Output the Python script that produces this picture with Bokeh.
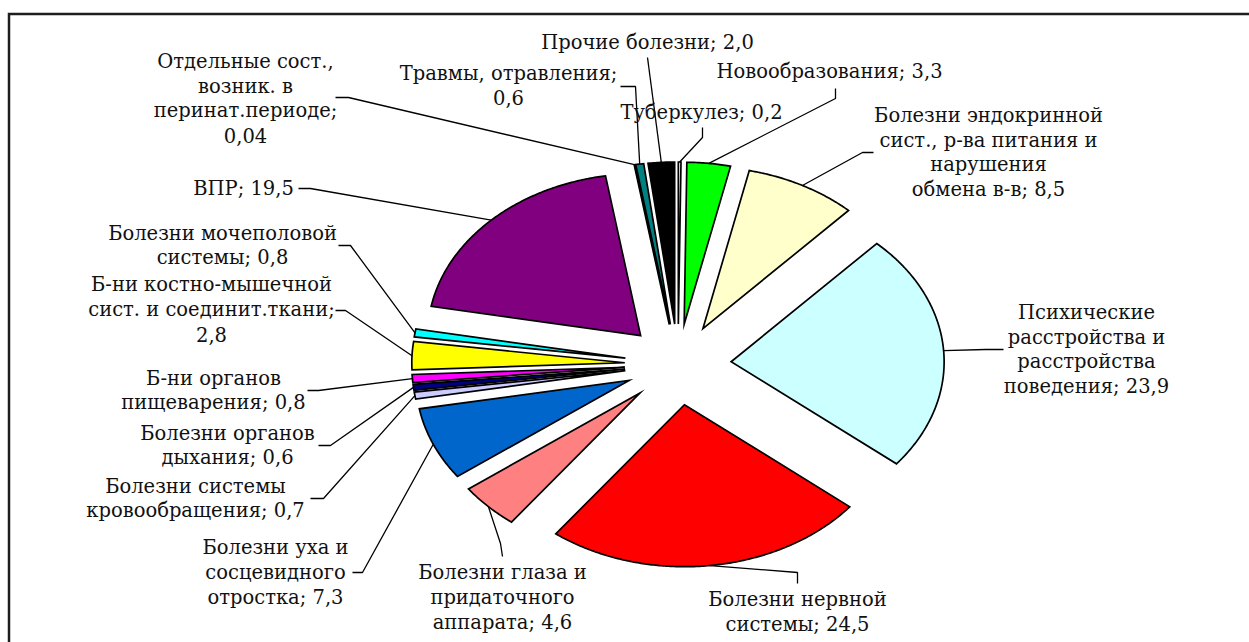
import numpy as np
from bokeh.plotting import figure
from bokeh.models import Range1d
from bokeh.embed import file_html
from bokeh.resources import INLINE
from bokeh.core.properties import value

# ---------------- data ----------------
categories = [
    "Туберкулез", "Новообразования", "Болезни эндокринной системы",
    "Психические расстройства", "Болезни нервной системы", "Болезни глаза",
    "Болезни уха", "Болезни системы кровообращения", "Болезни органов дыхания",
    "Б-ни органов пищеварения", "Б-ни костно-мышечной системы",
    "Болезни мочеполовой системы", "ВПР", "Отдельные сост. перинат.",
    "Травмы, отравления", "Прочие болезни",
]
values = [0.2, 3.3, 8.5, 23.9, 24.5, 4.6, 7.3, 0.7, 0.6, 0.8, 2.8, 0.8, 19.5, 0.04, 0.6, 2.0]
colors = ["#FFFFFF", "#00FF00", "#FFFFCC", "#CCFFFF", "#FF0000", "#FF8080",
          "#0066CC", "#CCCCFF", "#000080", "#FF00FF", "#FFFF00", "#00FFFF",
          "#800080", "#800000", "#008080", "#000000"]
label_texts = [
    "Туберкулез; 0,2",
    "Новообразования; 3,3",
    "Болезни эндокринной\nсист., р-ва питания и\nнарушения\nобмена в-в; 8,5",
    "Психические\nрасстройства и\nрасстройства\nповедения; 23,9",
    "Болезни нервной\nсистемы; 24,5",
    "Болезни глаза и\nпридаточного\nаппарата; 4,6",
    "Болезни уха и\nсосцевидного\nотростка; 7,3",
    "Болезни системы\nкровообращения; 0,7",
    "Болезни органов\nдыхания; 0,6",
    "Б-ни органов\nпищеварения; 0,8",
    "Б-ни костно-мышечной\nсист. и соединит.ткани;\n2,8",
    "Болезни мочеполовой\nсистемы; 0,8",
    "ВПР; 19,5",
    "Отдельные сост.,\nвозник. в\nперинат.периоде;\n0,04",
    "Травмы, отравления;\n0,6",
    "Прочие болезни; 2,0",
]

# ---------------- layout (page pixels of the reference) ----------------
W, H = 1249, 642
CX, CY = 677.5, 364.0      # pie centre
RX, RY = 213.0, 162.0      # pie radii (picture is stretched horizontally)
EXPLODE = 0.25
LINE_STEP = 24.8
FONT = "DejaVu Serif"
FSIZE = "19.5px"

# label block centre (x, y) and leader start / elbow points
label_layout = [
    ((701, 112), (702, 127), (702, 137)),
    ((829, 71), (835, 88), (835, 98)),
    ((988, 152), (873, 152), (862, 152)),
    ((1086, 349), (1003, 349), (985, 349)),
    ((797, 611.5), (797, 583), (797, 572)),
    ((502, 597), (502, 556), (500, 543)),
    ((275, 572), (352, 572), (362, 572)),
    ((195, 498), (310, 498), (323, 498)),
    ((227, 445), (318, 445), (330, 445)),
    ((213, 390), (307, 390), (318, 390)),
    ((211, 309), (335, 310), (345, 310)),
    ((222, 245), (338, 245), (350, 245)),
    ((243, 188), (298, 188), (310, 188)),
    ((245, 98), (335, 97), (348, 97)),
    ((508, 85), (620, 86), (635, 86)),
    ((647, 42), (647, 57), (647, 57)),
]


def X(px):
    return (px - CX) / RX


def Y(py):
    return (CY - py) / RY


p = figure(width=W, height=H,
           x_range=Range1d(X(0), X(W)), y_range=Range1d(Y(H), Y(0)),
           output_backend="svg", toolbar_location=None,
           x_axis_location=None, y_axis_location=None, min_border=0)
p.grid.visible = False
p.outline_line_color = None
p.background_fill_color = "white"

# chart-area border (only its top and left edges fall inside the picture)
p.line([X(8.5), X(8.5), X(W + 20)], [Y(H + 20), Y(13.5), Y(13.5)],
       line_color="#1e1e1e", line_width=2.5, line_join="miter")

total = float(sum(values))
cum = np.concatenate([[0.0], np.cumsum(values)])
xs, ys, mids = [], [], []
for i in range(len(values)):
    a0 = cum[i] / total * 2 * np.pi
    a1 = cum[i + 1] / total * 2 * np.pi
    am = 0.5 * (a0 + a1)
    ox, oy = EXPLODE * np.sin(am), EXPLODE * np.cos(am)
    t = np.linspace(a0, a1, max(3, int(np.degrees(a1 - a0) * 2) + 2))
    xs.append(list(np.concatenate([[ox], ox + np.sin(t)])))
    ys.append(list(np.concatenate([[oy], oy + np.cos(t)])))
    mids.append(((1 + EXPLODE) * np.sin(am), (1 + EXPLODE) * np.cos(am)))

p.patches(xs, ys, fill_color=colors, line_color="black", line_width=1.7, line_join="miter")

# leader lines
lx, ly = [], []
for (blk, st, el), (mx, my) in zip(label_layout, mids):
    lx.append([X(st[0]), X(el[0]), mx])
    ly.append([Y(st[1]), Y(el[1]), my])
p.multi_line(lx, ly, line_color="black", line_width=1.3)

# labels
tx, ty, tt = [], [], []
for txt, (blk, st, el) in zip(label_texts, label_layout):
    lines = txt.split("\n")
    n = len(lines)
    for k, ln in enumerate(lines):
        tx.append(X(blk[0]))
        ty.append(Y(blk[1] + (k - (n - 1) / 2) * LINE_STEP))
        tt.append(ln)
p.text(tx, ty, text=tt, text_font=value(FONT), text_font_size=FSIZE,
       text_align="center", text_baseline="middle", text_color="#111111")

open("out.html", "w").write(file_html(p, INLINE))
